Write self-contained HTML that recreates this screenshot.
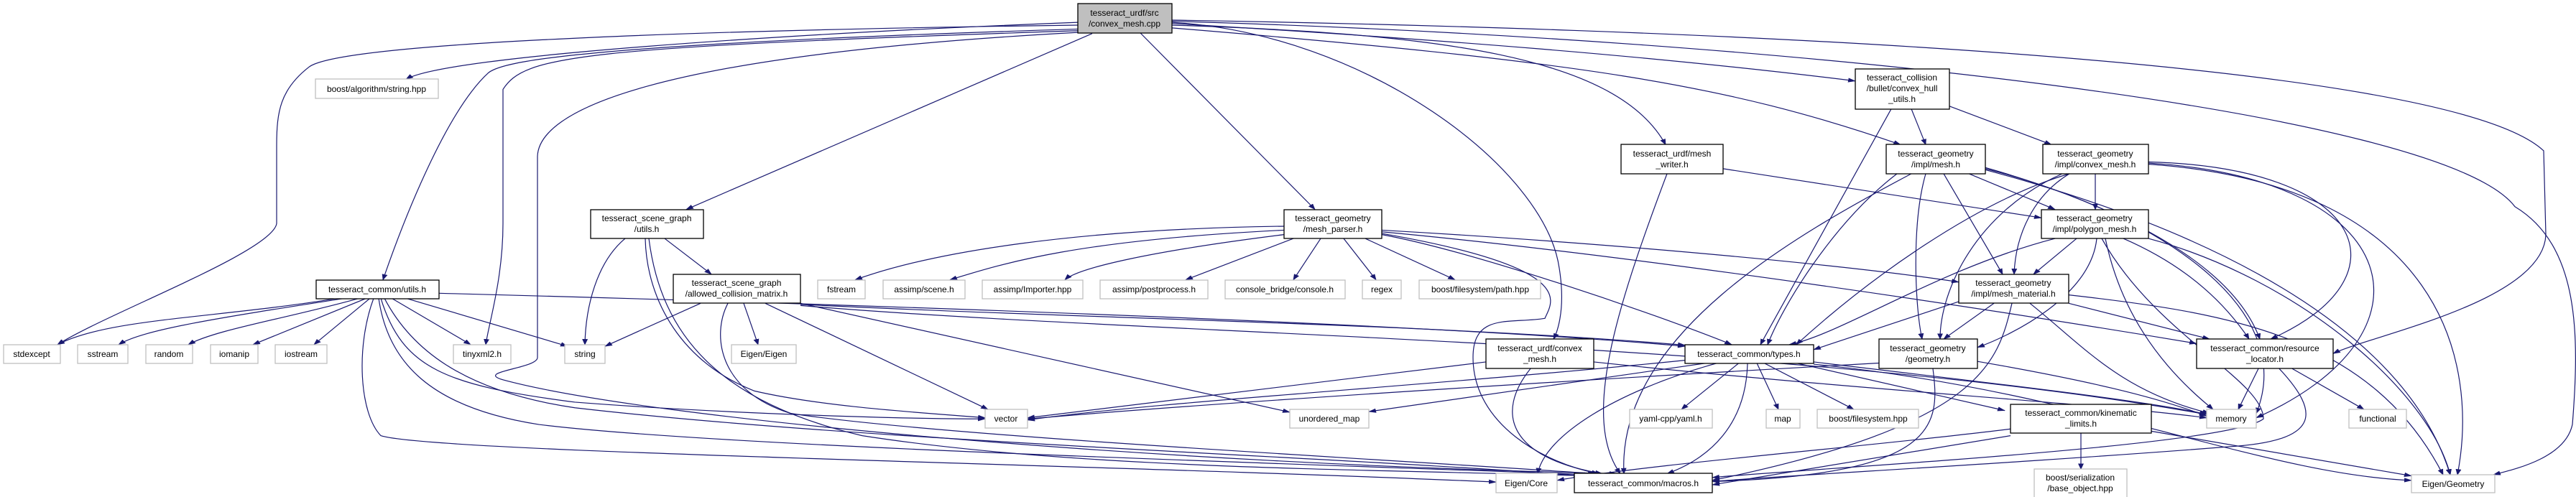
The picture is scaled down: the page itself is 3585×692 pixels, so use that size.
<!DOCTYPE html>
<html><head><meta charset="utf-8"><style>
html,body{margin:0;padding:0;background:#fff;overflow:hidden}
svg{display:block}
text{font-family:"Liberation Sans",Arial,sans-serif;font-size:12px;fill:#000;text-anchor:middle}
.e{fill:none;stroke:#191970;stroke-width:1.2;marker-end:url(#a);vector-effect:non-scaling-stroke}
.n{fill:#fff;stroke:#000;stroke-width:1.3}
.g{fill:#fff;stroke:#bfbfbf;stroke-width:1.3}
</style></head><body>
<svg width="3585" height="692" viewBox="0 0 3585 692" xmlns="http://www.w3.org/2000/svg">
<defs><marker id="a" markerWidth="11" markerHeight="8" refX="10" refY="4" orient="auto" markerUnits="userSpaceOnUse"><path d="M0,0 L11,4 L0,8 z" fill="#191970"/></marker></defs>
<g transform="scale(1,0.7777)">
<path class="e" d="M1500,40 C1100,60 620,100 565,142"/>
<path class="e" d="M1500,45 C900,55 470,80 430,120 C390,160 385,200 385,260 L385,400 C380,450 150,560 80,617"/>
<path class="e" d="M1500,52 C800,80 700,110 680,130 C620,200 560,400 533,501"/>
<path class="e" d="M1500,55 C800,85 730,100 700,160 L700,400 C700,500 680,580 676,617"/>
<path class="e" d="M1500,58 C900,100 750,200 748,280 L748,640 C748,660 660,665 700,680 C900,750 1600,830 2250,848"/>
<path class="e" d="M1520,60 L955,375"/>
<path class="e" d="M1587,59 L1830,375"/>
<path class="e" d="M1631,40 C1900,60 2150,300 2170,480 C2180,560 2165,600 2162,607"/>
<path class="e" d="M1631,45 C2000,60 2250,100 2318,259"/>
<path class="e" d="M1631,42 C2000,70 2300,100 2582,145"/>
<path class="e" d="M1631,50 C2200,110 2400,150 2645,259"/>
<path class="e" d="M1631,36 C2300,50 3400,100 3540,270 L3543,420 C3540,540 3300,600 3247,633"/>
<path class="e" d="M1631,38 C2500,70 3400,200 3500,370 C3590,440 3590,600 3580,760 C3570,820 3500,840 3470,850"/>
<path class="e" d="M470,534 C300,570 150,570 80,617"/>
<path class="e" d="M480,534 C300,570 200,590 165,617"/>
<path class="e" d="M500,534 C400,570 300,590 262,617"/>
<path class="e" d="M510,534 L352,617"/>
<path class="e" d="M515,534 L437,617"/>
<path class="e" d="M545,534 L655,617"/>
<path class="e" d="M565,534 L790,620"/>
<path class="e" d="M530,534 C560,660 620,690 800,720 C1000,740 1250,750 1371,750"/>
<path class="e" d="M520,534 C495,620 500,740 530,780 C600,810 1500,830 2082,863"/>
<path class="e" d="M527,534 C540,650 600,730 750,760 C1000,800 1800,830 2215,850"/>
<path class="e" d="M535,534 C570,620 640,700 800,730 C1200,790 1900,820 2200,852"/>
<path class="e" d="M611,525 C1200,545 2000,580 2345,620"/>
<path class="e" d="M870,427 C830,470 815,550 814,617"/>
<path class="e" d="M925,427 L990,491"/>
<path class="e" d="M898,427 C900,540 950,650 1050,700 C1150,730 1300,740 1371,748"/>
<path class="e" d="M903,427 C920,600 1000,720 1200,780 C1500,840 1900,840 2210,852"/>
<path class="e" d="M975,543 L842,620"/>
<path class="e" d="M1035,543 L1055,617"/>
<path class="e" d="M1065,543 L1375,733"/>
<path class="e" d="M1114,543 L1795,738"/>
<path class="e" d="M1114,545 C1500,570 2000,580 2345,618"/>
<path class="e" d="M1013,543 C990,600 1000,700 1100,740 C1300,780 1900,820 2220,848"/>
<path class="e" d="M1114,547 C1600,600 2500,610 3071,742"/>
<path class="e" d="M1787,405 C1500,410 1300,450 1190,501"/>
<path class="e" d="M1787,412 C1500,430 1400,470 1322,501"/>
<path class="e" d="M1787,420 C1600,450 1500,480 1482,501"/>
<path class="e" d="M1800,427 L1650,501"/>
<path class="e" d="M1838,427 L1800,501"/>
<path class="e" d="M1870,427 L1915,501"/>
<path class="e" d="M1900,427 L2025,501"/>
<path class="e" d="M1923,420 C2050,450 2300,560 2410,617"/>
<path class="e" d="M1923,412 C2300,440 2600,480 2726,505"/>
<path class="e" d="M1923,415 C2300,460 2800,560 3057,615"/>
<path class="e" d="M1923,418 C2200,480 2160,540 2150,570 C2100,580 2050,560 2050,640 C2050,760 2150,830 2225,848"/>
<path class="e" d="M2398,302 L2841,390"/>
<path class="e" d="M2320,311 C2250,550 2200,750 2255,848"/>
<path class="e" d="M2632,195 L2450,617"/>
<path class="e" d="M2660,195 L2680,259"/>
<path class="e" d="M2713,190 L2855,259"/>
<path class="e" d="M2740,311 L2860,375"/>
<path class="e" d="M2705,311 L2787,491"/>
<path class="e" d="M2680,311 C2660,400 2665,550 2675,607"/>
<path class="e" d="M2640,311 C2550,400 2480,550 2460,617"/>
<path class="e" d="M2660,311 C2500,420 2250,600 2260,848"/>
<path class="e" d="M2763,300 C2900,350 3100,450 3145,607"/>
<path class="e" d="M2763,302 C3000,380 3200,550 3140,740"/>
<path class="e" d="M2763,304 C3100,420 3350,600 3410,850"/>
<path class="e" d="M2916,311 L2916,375"/>
<path class="e" d="M2880,311 C2830,350 2805,420 2803,491"/>
<path class="e" d="M2870,311 C2750,380 2700,520 2700,607"/>
<path class="e" d="M2880,311 C2750,360 2600,500 2500,617"/>
<path class="e" d="M2990,290 C3300,300 3350,500 3160,607"/>
<path class="e" d="M2990,292 C3350,320 3400,600 3140,748"/>
<path class="e" d="M2990,294 C3400,330 3450,650 3420,850"/>
<path class="e" d="M2890,427 L2830,491"/>
<path class="e" d="M2918,427 C2910,530 2800,600 2752,622"/>
<path class="e" d="M2860,427 C2700,480 2560,600 2490,617"/>
<path class="e" d="M2955,427 C3050,480 3100,550 3130,607"/>
<path class="e" d="M2930,427 C2950,550 3000,650 3080,733"/>
<path class="e" d="M2990,427 C3200,500 3380,700 3410,850"/>
<path class="e" d="M2925,427 C3000,600 3150,680 3150,750 C3100,800 2500,840 2383,855"/>
<path class="e" d="M2775,543 L2705,607"/>
<path class="e" d="M2879,543 L3075,607"/>
<path class="e" d="M2825,543 C2900,620 2950,700 3075,740"/>
<path class="e" d="M2879,528 C3100,560 3300,600 3400,850"/>
<path class="e" d="M2800,543 C2780,650 2760,760 2383,860"/>
<path class="e" d="M2726,540 L2524,626"/>
<path class="e" d="M2752,647 C2900,680 3000,710 3071,745"/>
<path class="e" d="M2690,660 C2700,760 2700,850 2383,862"/>
<path class="e" d="M2615,650 C2200,680 1700,720 1430,750"/>
<path class="e" d="M2068,648 L1430,748"/>
<path class="e" d="M2218,648 C2600,700 2900,720 3071,748"/>
<path class="e" d="M2130,660 C2080,740 2100,820 2230,848"/>
<path class="e" d="M2345,645 C2000,690 1600,720 1430,752"/>
<path class="e" d="M2375,650 L1905,737"/>
<path class="e" d="M2420,650 L2340,733"/>
<path class="e" d="M2445,650 L2475,733"/>
<path class="e" d="M2455,650 L2580,733"/>
<path class="e" d="M2390,650 C2250,700 2150,780 2140,848"/>
<path class="e" d="M2432,650 C2430,760 2380,820 2320,848"/>
<path class="e" d="M2524,648 C2800,690 3000,720 3071,742"/>
<path class="e" d="M2500,650 L2790,735"/>
<path class="e" d="M2524,652 C2900,700 3150,850 3356,860"/>
<path class="e" d="M3143,660 L3115,733"/>
<path class="e" d="M3190,660 L3290,733"/>
<path class="e" d="M3172,660 C3230,740 3230,790 3100,800 C2800,830 2500,850 2383,862"/>
<path class="e" d="M2896,776 L2896,840"/>
<path class="e" d="M2994,772 L3356,852"/>
<path class="e" d="M2798,768 C2600,800 2300,830 2167,860"/>
<path class="e" d="M2798,780 L2383,868"/>
</g>
<rect x="1500" y="5" width="131" height="41" fill="#bfbfbf" stroke="#000" stroke-width="1.3"/>
<text x="1565" y="22">tesseract_urdf/src</text><text x="1565" y="37">/convex_mesh.cpp</text>

<rect class="g" x="439" y="110" width="171" height="27"/><text x="524" y="128">boost/algorithm/string.hpp</text>
<rect class="n" x="440" y="390" width="171" height="26"/><text x="525" y="407">tesseract_common/utils.h</text>
<rect class="g" x="5" y="480" width="79" height="26"/><text x="44" y="497">stdexcept</text>
<rect class="g" x="108" y="480" width="70" height="26"/><text x="143" y="497">sstream</text>
<rect class="g" x="203" y="480" width="65" height="26"/><text x="235" y="497">random</text>
<rect class="g" x="293" y="480" width="66" height="26"/><text x="326" y="497">iomanip</text>
<rect class="g" x="383" y="480" width="72" height="26"/><text x="419" y="497">iostream</text>
<rect class="g" x="631" y="480" width="80" height="26"/><text x="671" y="497">tinyxml2.h</text>
<rect class="g" x="786" y="480" width="56" height="26"/><text x="814" y="497">string</text>

<rect class="n" x="822" y="292" width="157" height="40"/><text x="900" y="308">tesseract_scene_graph</text><text x="900" y="323">/utils.h</text>
<rect class="n" x="937" y="382" width="177" height="40"/><text x="1025" y="398">tesseract_scene_graph</text><text x="1025" y="413">/allowed_collision_matrix.h</text>
<rect class="g" x="1138" y="390" width="66" height="26"/><text x="1171" y="407">fstream</text>
<rect class="g" x="1229" y="390" width="114" height="26"/><text x="1286" y="407">assimp/scene.h</text>
<rect class="g" x="1367" y="390" width="140" height="26"/><text x="1437" y="407">assimp/Importer.hpp</text>
<rect class="g" x="1531" y="390" width="150" height="26"/><text x="1606" y="407">assimp/postprocess.h</text>
<rect class="g" x="1705" y="390" width="167" height="26"/><text x="1788" y="407">console_bridge/console.h</text>
<rect class="g" x="1018" y="480" width="90" height="26"/><text x="1063" y="497">Eigen/Eigen</text>
<rect class="g" x="1371" y="570" width="59" height="26"/><text x="1400" y="587">vector</text>
<rect class="n" x="1787" y="292" width="136" height="40"/><text x="1855" y="308">tesseract_geometry</text><text x="1855" y="323">/mesh_parser.h</text>
<rect class="g" x="1896" y="390" width="54" height="26"/><text x="1923" y="407">regex</text>
<rect class="g" x="1975" y="390" width="169" height="26"/><text x="2060" y="407">boost/filesystem/path.hpp</text>
<rect class="n" x="2256" y="201" width="142" height="41"/><text x="2327" y="218">tesseract_urdf/mesh</text><text x="2327" y="233">_writer.h</text>
<rect class="n" x="2582" y="96" width="131" height="56"/><text x="2647" y="112">tesseract_collision</text><text x="2647" y="127">/bullet/convex_hull</text><text x="2647" y="142">_utils.h</text>
<rect class="n" x="2625" y="201" width="138" height="41"/><text x="2694" y="218">tesseract_geometry</text><text x="2694" y="233">/impl/mesh.h</text>
<rect class="n" x="2068" y="472" width="150" height="41"/><text x="2143" y="489">tesseract_urdf/convex</text><text x="2143" y="504">_mesh.h</text>
<rect class="n" x="2345" y="480" width="179" height="26"/><text x="2434" y="497">tesseract_common/types.h</text>
<rect class="n" x="2615" y="472" width="137" height="41"/><text x="2683" y="489">tesseract_geometry</text><text x="2683" y="504">/geometry.h</text>
<rect class="g" x="1795" y="570" width="110" height="26"/><text x="1850" y="587">unordered_map</text>
<rect class="g" x="2268" y="570" width="115" height="26"/><text x="2325" y="587">yaml-cpp/yaml.h</text>
<rect class="g" x="2458" y="570" width="47" height="26"/><text x="2481" y="587">map</text>
<rect class="g" x="2529" y="570" width="141" height="26"/><text x="2600" y="587">boost/filesystem.hpp</text>
<rect class="g" x="2082" y="659" width="85" height="27"/><text x="2124" y="677">Eigen/Core</text>
<rect class="n" x="2191" y="659" width="192" height="27"/><text x="2287" y="677">tesseract_common/macros.h</text>
<rect class="n" x="2843" y="201" width="147" height="41"/><text x="2916" y="218">tesseract_geometry</text><text x="2916" y="233">/impl/convex_mesh.h</text>
<rect class="n" x="2841" y="292" width="149" height="40"/><text x="2915" y="308">tesseract_geometry</text><text x="2915" y="323">/impl/polygon_mesh.h</text>
<rect class="n" x="2726" y="382" width="153" height="40"/><text x="2802" y="398">tesseract_geometry</text><text x="2802" y="413">/impl/mesh_material.h</text>
<rect class="n" x="3057" y="472" width="190" height="41"/><text x="3152" y="489">tesseract_common/resource</text><text x="3152" y="504">_locator.h</text>
<rect class="g" x="3071" y="570" width="69" height="26"/><text x="3105" y="587">memory</text>
<rect class="g" x="3269" y="570" width="80" height="26"/><text x="3309" y="587">functional</text>
<rect class="n" x="2798" y="563" width="196" height="40"/><text x="2896" y="579">tesseract_common/kinematic</text><text x="2896" y="594">_limits.h</text>
<rect class="g" x="2831" y="653" width="129" height="40"/><text x="2895" y="669">boost/serialization</text><text x="2895" y="684">/base_object.hpp</text>
<rect class="g" x="3356" y="661" width="116" height="25"/><text x="3414" y="678">Eigen/Geometry</text>
</svg>
</body></html>
